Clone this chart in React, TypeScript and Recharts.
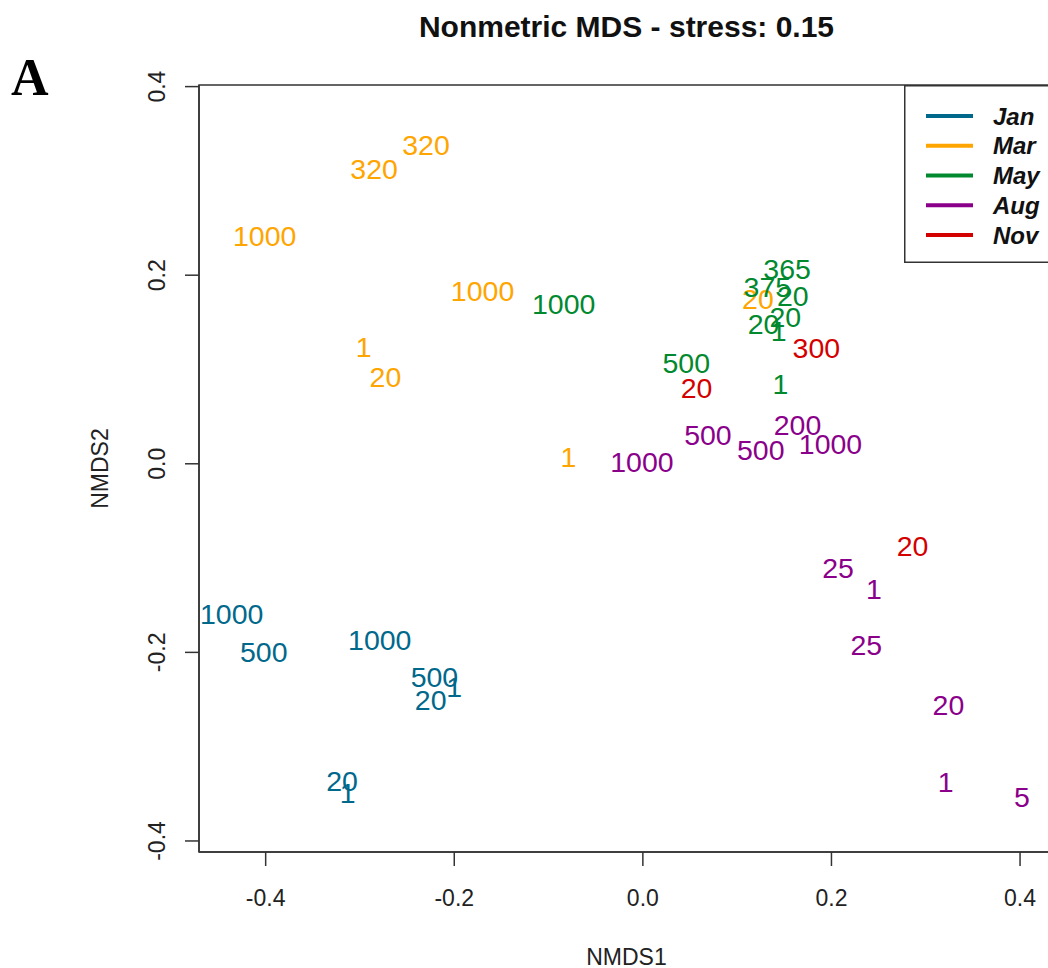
import React from 'react';
import {
  ScatterChart,
  Scatter,
  XAxis,
  YAxis,
  Legend,
  ReferenceArea,
} from 'recharts';

// NMDS coordinates, one list per sampling month
const months = ['Jan', 'Mar', 'May', 'Aug', 'Nov'];

const janPoints = [
  { x: -0.436, y: -0.159, label: '1000' },
  { x: -0.402, y: -0.199, label: '500' },
  { x: -0.279, y: -0.187, label: '1000' },
  { x: -0.221, y: -0.226, label: '500' },
  { x: -0.2, y: -0.236, label: '1' },
  { x: -0.225, y: -0.25, label: '20' },
  { x: -0.319, y: -0.336, label: '20' },
  { x: -0.313, y: -0.349, label: '1' },
];

const marPoints = [
  { x: -0.23, y: 0.338, label: '320' },
  { x: -0.285, y: 0.313, label: '320' },
  { x: -0.401, y: 0.242, label: '1000' },
  { x: -0.17, y: 0.183, label: '1000' },
  { x: -0.296, y: 0.124, label: '1' },
  { x: -0.273, y: 0.092, label: '20' },
  { x: -0.079, y: 0.008, label: '1' },
  { x: 0.122, y: 0.175, label: '20' },
];

const mayPoints = [
  { x: -0.084, y: 0.17, label: '1000' },
  { x: 0.046, y: 0.107, label: '500' },
  { x: 0.146, y: 0.085, label: '1' },
  { x: 0.153, y: 0.207, label: '365' },
  { x: 0.132, y: 0.188, label: '375' },
  { x: 0.159, y: 0.178, label: '20' },
  { x: 0.151, y: 0.156, label: '20' },
  { x: 0.128, y: 0.148, label: '20' },
  { x: 0.144, y: 0.141, label: '1' },
];

const augPoints = [
  { x: -0.001, y: 0.002, label: '1000' },
  { x: 0.069, y: 0.031, label: '500' },
  { x: 0.125, y: 0.015, label: '500' },
  { x: 0.164, y: 0.041, label: '200' },
  { x: 0.199, y: 0.021, label: '1000' },
  { x: 0.207, y: -0.11, label: '25' },
  { x: 0.245, y: -0.133, label: '1' },
  { x: 0.237, y: -0.192, label: '25' },
  { x: 0.324, y: -0.256, label: '20' },
  { x: 0.321, y: -0.337, label: '1' },
  { x: 0.402, y: -0.353, label: '5' },
];

const novPoints = [
  { x: 0.184, y: 0.123, label: '300' },
  { x: 0.057, y: 0.081, label: '20' },
  { x: 0.286, y: -0.087, label: '20' },
];

const xTicks = [-0.4, -0.2, 0, 0.2, 0.4];
const yTicks = [-0.4, -0.2, 0, 0.2, 0.4];

const seriesData: Record<string, Array<{ x: number; y: number; label: string }>> = {
  Jan: janPoints,
  Mar: marPoints,
  May: mayPoints,
  Aug: augPoints,
  Nov: novPoints,
};

const monthColors: Record<string, string> = {
  Jan: '#00688B',
  Mar: '#FFA500',
  May: '#00892E',
  Aug: '#8B008B',
  Nov: '#D40000',
};

const FONT = '"Liberation Sans", Arial, sans-serif';
const AXIS = '#333333';

const X_DOMAIN: [number, number] = [-0.4707, 0.436];
const Y_DOMAIN: [number, number] = [-0.4117, 0.4017];

const makeLabelShape = (color: string) => (props: any) => {
  const { cx, cy, payload } = props;
  if (cx == null || cy == null) return <g />;
  return (
    <text
      x={cx}
      y={cy}
      dy="0.36em"
      textAnchor="middle"
      fill={color}
      fontSize={28.5}
      fontFamily={FONT}
    >
      {payload.label}
    </text>
  );
};

const YTick = (props: any) => {
  const { x, y, payload } = props;
  return (
    <text
      x={x}
      y={y}
      transform={`rotate(-90, ${x}, ${y})`}
      textAnchor="middle"
      fontSize={23}
      fontFamily={FONT}
      fill="#222"
    >
      {Number(payload.value).toFixed(1)}
    </text>
  );
};

const YTitle = (props: any) => {
  const vb = props.viewBox || { x: 0, y: 85, width: 199, height: 767 };
  const cx = vb.x + 100;
  const cy = vb.y + vb.height / 2;
  return (
    <text
      x={cx}
      y={cy}
      dy="0.36em"
      transform={`rotate(-90, ${cx}, ${cy})`}
      textAnchor="middle"
      fontSize={23}
      fontFamily={FONT}
      fill="#222"
    >
      NMDS2
    </text>
  );
};

// drawn in the month order of the original legend, not sorted
const renderLegend = () => (
  <svg width={150} height={178} style={{ display: 'block' }}>
    <rect x={0.75} y={0.75} width={148.5} height={176.5} fill="#fff" stroke={AXIS} strokeWidth={1.5} />
    {months.map((m, i) => {
      const cy = 31 + i * 29.75;
      return (
        <g key={`leg-${m}`}>
          <line x1={22} x2={69} y1={cy} y2={cy} stroke={monthColors[m]} strokeWidth={4} />
          <text
            x={89}
            y={cy}
            dy="0.36em"
            fontSize={24}
            fontWeight="bold"
            fontStyle="italic"
            fontFamily={FONT}
            fill="#111"
          >
            {m}
          </text>
        </g>
      );
    })}
  </svg>
);

export default function App() {
  return (
    <div
      style={{
        position: 'absolute',
        left: 0,
        top: 0,
        width: 1048,
        height: 968,
        overflow: 'hidden',
        background: '#fff',
      }}
    >
      <ScatterChart
        width={1060}
        height={968}
        margin={{ top: 85, right: 6, bottom: 0, left: 0 }}
      >
        <XAxis
          type="number"
          dataKey="x"
          domain={X_DOMAIN}
          allowDataOverflow
          ticks={xTicks}
          tickFormatter={(v: number) => v.toFixed(1)}
          height={116}
          tickSize={14}
          tickMargin={24}
          axisLine={{ stroke: AXIS, strokeWidth: 1.5 }}
          tickLine={{ stroke: AXIS, strokeWidth: 1.5 }}
          tick={{ fontSize: 23, fill: '#222', fontFamily: FONT }}
          label={{
            value: 'NMDS1',
            position: 'insideBottom',
            offset: 3,
            fontSize: 23,
            fill: '#222',
            fontFamily: FONT,
          }}
        />
        <YAxis
          type="number"
          dataKey="y"
          domain={Y_DOMAIN}
          allowDataOverflow
          ticks={yTicks}
          width={199}
          tickSize={14}
          tickMargin={20}
          axisLine={{ stroke: AXIS, strokeWidth: 1.5 }}
          tickLine={{ stroke: AXIS, strokeWidth: 1.5 }}
          tick={<YTick />}
          label={<YTitle />}
        />
        <ReferenceArea
          x1={X_DOMAIN[0]}
          x2={X_DOMAIN[1]}
          y1={Y_DOMAIN[0]}
          y2={Y_DOMAIN[1]}
          fill="none"
          fillOpacity={0}
          stroke={AXIS}
          strokeWidth={1.5}
          ifOverflow="visible"
        />
        {months.map((m) => (
          <Scatter
            key={m}
            name={m}
            data={seriesData[m]}
            fill={monthColors[m]}
            shape={makeLabelShape(monthColors[m])}
            isAnimationActive={false}
          />
        ))}
        <Legend
          layout="horizontal"
          verticalAlign="middle"
          align="center"
          content={renderLegend}
          wrapperStyle={{ position: 'absolute', left: 904, top: 85, width: 150, height: 178 }}
        />
      </ScatterChart>
      <svg
        width={1048}
        height={100}
        style={{ position: 'absolute', left: 0, top: 0, pointerEvents: 'none' }}
      >
        <text
          x={626.5}
          y={37}
          textAnchor="middle"
          fontSize={30}
          fontWeight="bold"
          fontFamily={FONT}
          fill="#111"
        >
          Nonmetric MDS - stress: 0.15
        </text>
        <text
          x={11}
          y={95}
          fontSize={52}
          fontWeight="bold"
          fontFamily='"Liberation Serif", "Times New Roman", serif'
          fill="#000"
        >
          A
        </text>
      </svg>
    </div>
  );
}
